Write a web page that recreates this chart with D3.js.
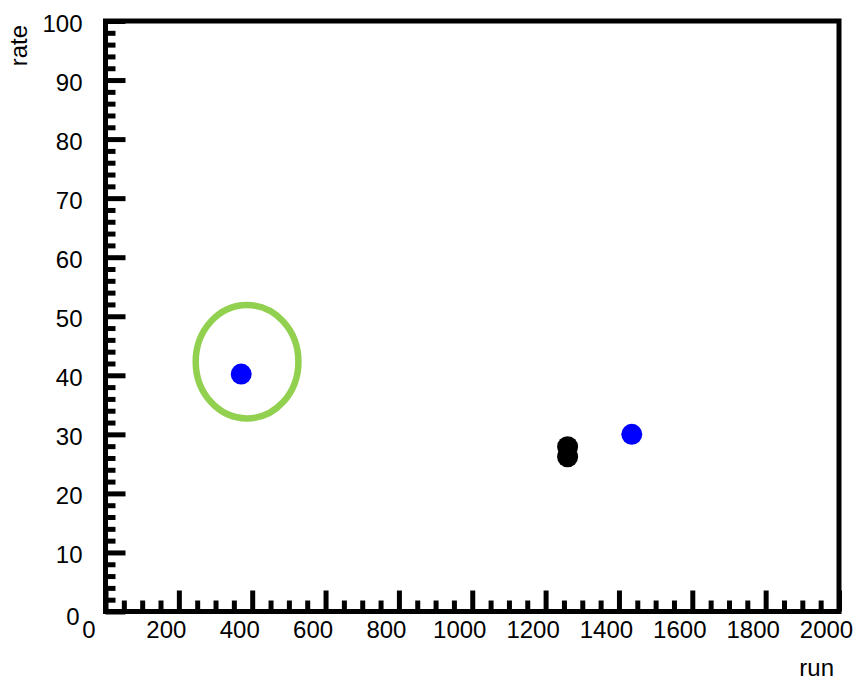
<!DOCTYPE html>
<html>
<head>
<meta charset="utf-8">
<script src="https://cdn.jsdelivr.net/npm/d3@7"></script>
<style>
  html, body { margin: 0; padding: 0; background: #fff; }
  svg { display: block; font-family: "Liberation Sans", Arial, sans-serif; }
</style>
</head>
<body>
<div id="chart"></div>
<script>
// Runs with their measured rates, split by marker colour
const blueRuns  = [370, 1435];
const blueRates = [40.2, 30.0];
const blackRuns  = [1260, 1260];
const blackRates = [27.9, 26.2];

// Axis ranges and tick values
const xDomain = [0, 2000];
const yDomain = [0, 100];
const xMajorTicks = [0, 200, 400, 600, 800, 1000, 1200, 1400, 1600, 1800, 2000];
const yMajorTicks = [0, 10, 20, 30, 40, 50, 60, 70, 80, 90, 100];
const xTitle = "run";
const yTitle = "rate";

// Highlighted region around the low-run point (data units)
const highlightCenter = [386, 42.3];
const highlightRadii = [140, 9.6];

const W = 858, H = 681;
const frame = { left: 105.5, right: 839, top: 21, bottom: 611.5 };

const svg = d3.select("#chart").append("svg")
  .attr("width", W).attr("height", H);

const x = d3.scaleLinear().domain(xDomain).range([frame.left, frame.right]);
const y = d3.scaleLinear().domain(yDomain).range([frame.bottom, frame.top]);

const xMinor = d3.range(xDomain[0], xDomain[1] + 1, 50).filter(v => v % 200 !== 0);
const yMinor = d3.range(yDomain[0], yDomain[1] + 1, 2).filter(v => v % 10 !== 0);

function styleAxis(g) {
  g.select(".domain").remove();
  g.selectAll(".tick line").attr("stroke", "#000").attr("stroke-width", 5);
  g.selectAll(".tick text").attr("fill", "#000").attr("font-size", 24)
    .attr("font-family", "'Liberation Sans', Arial, sans-serif");
}

// Minor ticks (inside the frame)
svg.append("g").attr("transform", `translate(${frame.left},0)`)
  .call(d3.axisLeft(y).tickValues(yMinor).tickSize(-10).tickFormat(""))
  .call(styleAxis);
svg.append("g").attr("transform", `translate(0,${frame.bottom})`)
  .call(d3.axisBottom(x).tickValues(xMinor).tickSize(-11).tickFormat(""))
  .call(styleAxis);

// Major ticks with labels
svg.append("g").attr("transform", `translate(${frame.left},0)`)
  .call(d3.axisLeft(y).tickValues(yMajorTicks).tickSize(-20).tickPadding(23).tickFormat(d3.format("d")))
  .call(styleAxis)
  .call(g => g.selectAll(".tick text")
    .attr("dy", d => d === 0 ? "0.55em" : "0.42em")
    .attr("dx", d => d === 0 ? -3 : 0));

svg.append("g").attr("transform", `translate(0,${frame.bottom})`)
  .call(d3.axisBottom(x).tickValues(xMajorTicks).tickSize(-21).tickPadding(9).tickFormat(d3.format("d")))
  .call(styleAxis)
  .call(g => g.selectAll(".tick text").attr("dx", d => d === 0 ? -17 : -13));

// Frame
svg.append("rect")
  .attr("x", frame.left).attr("y", frame.top)
  .attr("width", frame.right - frame.left).attr("height", frame.bottom - frame.top)
  .attr("fill", "none").attr("stroke", "#000").attr("stroke-width", 5)
  .attr("stroke-linejoin", "miter");

// Axis titles
svg.append("text")
  .attr("transform", `translate(27,${frame.top + 4}) rotate(-90)`)
  .attr("text-anchor", "end").attr("font-size", 24).attr("fill", "#000")
  .text(yTitle);
svg.append("text")
  .attr("x", frame.right - 5).attr("y", 676)
  .attr("text-anchor", "end").attr("font-size", 24).attr("fill", "#000")
  .text(xTitle);

// Markers
svg.append("g").selectAll("circle")
  .data(blackRuns.map((r, i) => [r, blackRates[i]]))
  .join("circle")
  .attr("cx", d => x(d[0])).attr("cy", d => y(d[1])).attr("r", 10.5)
  .attr("fill", "#000");
svg.append("g").selectAll("circle")
  .data(blueRuns.map((r, i) => [r, blueRates[i]]))
  .join("circle")
  .attr("cx", d => x(d[0])).attr("cy", d => y(d[1])).attr("r", 10.5)
  .attr("fill", "#0000ff");

// Highlight ellipse
svg.append("ellipse")
  .attr("cx", x(highlightCenter[0])).attr("cy", y(highlightCenter[1]))
  .attr("rx", x(highlightRadii[0]) - x(0))
  .attr("ry", y(0) - y(highlightRadii[1]))
  .attr("fill", "none").attr("stroke", "#92d050").attr("stroke-width", 6.5);
</script>
</body>
</html>
